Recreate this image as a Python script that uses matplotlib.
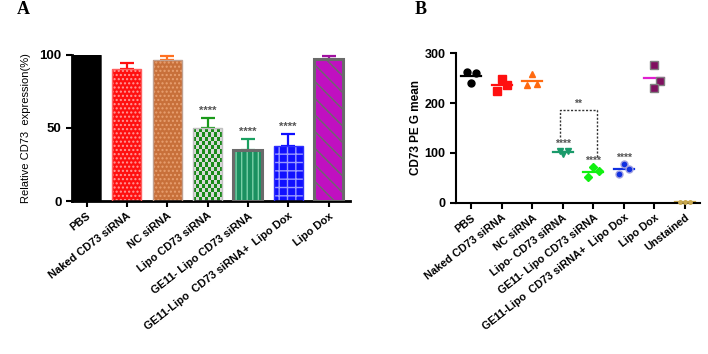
import numpy as np
import matplotlib
matplotlib.use("Agg")
import matplotlib.pyplot as plt

plt.rcParams['font.family'] = ['Liberation Sans', 'DejaVu Sans']
plt.rcParams['hatch.linewidth'] = 1.0

# ---------------- Panel A data ----------------
a_labels = ["PBS", "Naked CD73 siRNA", "NC siRNA", "Lipo CD73 siRNA",
            "GE11- Lipo CD73 siRNA", "GE11-Lipo  CD73 siRNA+  Lipo Dox", "Lipo Dox"]
a_values = [100, 90.5, 96.6, 49.8, 34.6, 37.8, 97.2]
a_errors = [0, 3.9, 2.4, 7.2, 7.7, 8.0, 2.0]
a_sig = ["", "", "", "****", "****", "****", ""]

# ---------------- Panel B data ----------------
b_labels = ["PBS", "Naked CD73 siRNA", "NC siRNA", "Lipo- CD73 siRNA",
            "GE11- Lipo CD73 siRNA", "GE11-Lipo  CD73 siRNA+  Lipo Dox", "Lipo Dox", "Unstained"]
b_points = [
    [263, 261, 241],
    [248, 225, 236],
    [258, 236, 239],
    [104, 97, 103],
    [71, 64, 52],
    [77, 68, 58],
    [277, 244, 230],
    [2, 2, 2],
]
b_sig = ["", "", "", "****", "****", "****", "", ""]

ROT = 38

fig = plt.figure(figsize=(7.08, 3.54), dpi=100)

# ================= Panel A =================
axA = fig.add_axes([0.1017, 0.432, 0.392, 0.413])
face = ["#000000", "#ff1010", "#c8703a", "#1a8a1a", "#1a9060", "#1010ff", "#c010c0"]
hatchcol = ["#000000", "#ff9a9a", "#e8a070", None, "#7ad0a8", "#9a9aff", "#6a6a6a"]
hatches = [None, "....", "....", None, "|||", "++", "\\\\"]
edgecol = ["#000000", "#ff6060", "#c0a090", "#c0c0c0", "#6a6a6a", "#3030ff", "#6a6a6a"]
edgelw = [0.5, 1.0, 1.0, 1.0, 2.2, 1.0, 2.2]
errcol = ["#000000", "#ff1010", "#ff7020", "#1a9a1a", "#1aa060", "#1010ff", "#a010a0"]
x = np.arange(len(a_labels))
w = 0.72
for i in range(len(x)):
    b = axA.bar(x[i], a_values[i], width=w, color=face[i], edgecolor=hatchcol[i] if hatchcol[i] else face[i],
                hatch=hatches[i], linewidth=0, zorder=2)
    if i == 3:
        # checkerboard pattern clipped to the bar
        n_c, n_r = 10, 17
        chk = (np.add.outer(np.arange(n_r), np.arange(n_c)) % 2)
        cmap = matplotlib.colors.ListedColormap(["#1a8a1a", "#d8d8d8"])
        im = axA.imshow(chk, extent=(x[i] - w / 2, x[i] + w / 2, 0, a_values[i]), cmap=cmap,
                        aspect='auto', interpolation='nearest', zorder=2.5)
        im.set_clip_path(b.patches[0])
    axA.bar(x[i], a_values[i], width=w, fill=False, edgecolor=edgecol[i], linewidth=edgelw[i], zorder=3)
    if a_errors[i] > 0:
        axA.errorbar(x[i], a_values[i], yerr=[[0], [a_errors[i]]], fmt='none', ecolor=errcol[i],
                     elinewidth=1.6, capsize=4.8, capthick=1.6, zorder=1, clip_on=False)
    if a_sig[i]:
        axA.text(x[i], a_values[i] + a_errors[i] + 1.5, a_sig[i], ha='center', va='bottom',
                 fontsize=8, color='#555555', fontweight='bold')
axA.set_xlim(-0.36, 6.52)
axA.set_ylim(0, 100)
axA.set_yticks([0, 50, 100])
axA.set_xticks(x)
axA.set_xticklabels(a_labels, rotation=ROT, ha='right', va='top', rotation_mode='anchor',
                    fontsize=7.9, fontweight='bold')
axA.tick_params(axis='y', labelsize=9.5, width=1.5, length=4)
for t in axA.get_yticklabels():
    t.set_fontweight('bold')
axA.tick_params(axis='x', width=1.5, length=4, pad=3)
axA.spines['top'].set_visible(False)
axA.spines['right'].set_visible(False)
axA.spines['left'].set_linewidth(2)
axA.spines['bottom'].set_linewidth(2)
axA.set_ylabel("Relative CD73  expression(%)", fontsize=8, labelpad=6)
fig.text(0.024, 0.972, "A", fontsize=13, fontweight='bold', family='Liberation Serif', va='center')

# ================= Panel B =================
axB = fig.add_axes([0.644, 0.427, 0.345, 0.423])
mk = ['o', 's', '^', 'v', 'D', 'o', 's', 'o']
mcol = ["#000000", "#ff1010", "#ff6a10", "#1a9a6a", "#10f010", "#1030e0", "#801060", "#c8a850"]
medge = ["#000000", "#ff1010", "#ff6a10", "#1a9a6a", "#10f010", "#a0a0e0", "#808080", "#c8a850"]
lcol = ["#000000", "#ff1010", "#ff6a10", "#1a9a6a", "#10f010", "#1030e0", "#e020d0", "#c8a850"]
msize = [5, 5.5, 5, 5, 4.5, 5, 5.5, 2.5]
jit = [[-0.15, 0.17, 0.0], [0.0, -0.17, 0.17], [0.0, -0.17, 0.17], [-0.1, 0.02, 0.18],
       [0.0, 0.17, -0.17], [0.0, 0.17, -0.17], [0.0, 0.17, 0.0], [-0.15, 0.0, 0.15]]
for i, pts in enumerate(b_points):
    xs = [i + j for j in jit[i]]
    axB.plot(xs, pts, linestyle='none', marker=mk[i], markersize=msize[i], color=mcol[i],
             markeredgecolor=medge[i], markeredgewidth=1.0, zorder=3, clip_on=False)
    m = np.mean(pts)
    axB.plot([i - 0.33, i + 0.33], [m, m], color=lcol[i], linewidth=1.6, zorder=2, clip_on=False)
    if b_sig[i]:
        axB.text(i, max(pts) + 4, b_sig[i], ha='center', va='bottom', fontsize=7.5,
                 color='#555555', fontweight='bold')
# bracket between groups 3 and 4
br_top = 186
axB.plot([3 - 0.1, 3 - 0.1, 4 + 0.12, 4 + 0.12], [131, br_top, br_top, 92],
         linestyle=(0, (1.5, 1.2)), color='#333333', linewidth=1.0, zorder=1)
axB.text(3.51, br_top + 2, "**", ha='center', va='bottom', fontsize=7.5, color='#555555', fontweight='bold')

axB.set_xlim(-0.5, 7.5)
axB.set_ylim(0, 300)
axB.set_yticks([0, 100, 200, 300])
axB.set_xticks(np.arange(len(b_labels)))
axB.set_xticklabels(b_labels, rotation=ROT, ha='right', va='top', rotation_mode='anchor',
                    fontsize=7.8, fontweight='bold')
axB.tick_params(axis='y', labelsize=9, width=1.5, length=4)
for t in axB.get_yticklabels():
    t.set_fontweight('bold')
axB.tick_params(axis='x', width=1.5, length=4, pad=3)
axB.spines['top'].set_visible(False)
axB.spines['right'].set_visible(False)
axB.spines['left'].set_linewidth(1.5)
axB.spines['bottom'].set_linewidth(1.5)
axB.set_ylabel("CD73 PE G mean", fontsize=8.5, fontweight='bold', labelpad=2)
fig.text(0.585, 0.972, "B", fontsize=13, fontweight='bold', family='Liberation Serif', va='center')

fig.savefig("out.png", dpi=100)
